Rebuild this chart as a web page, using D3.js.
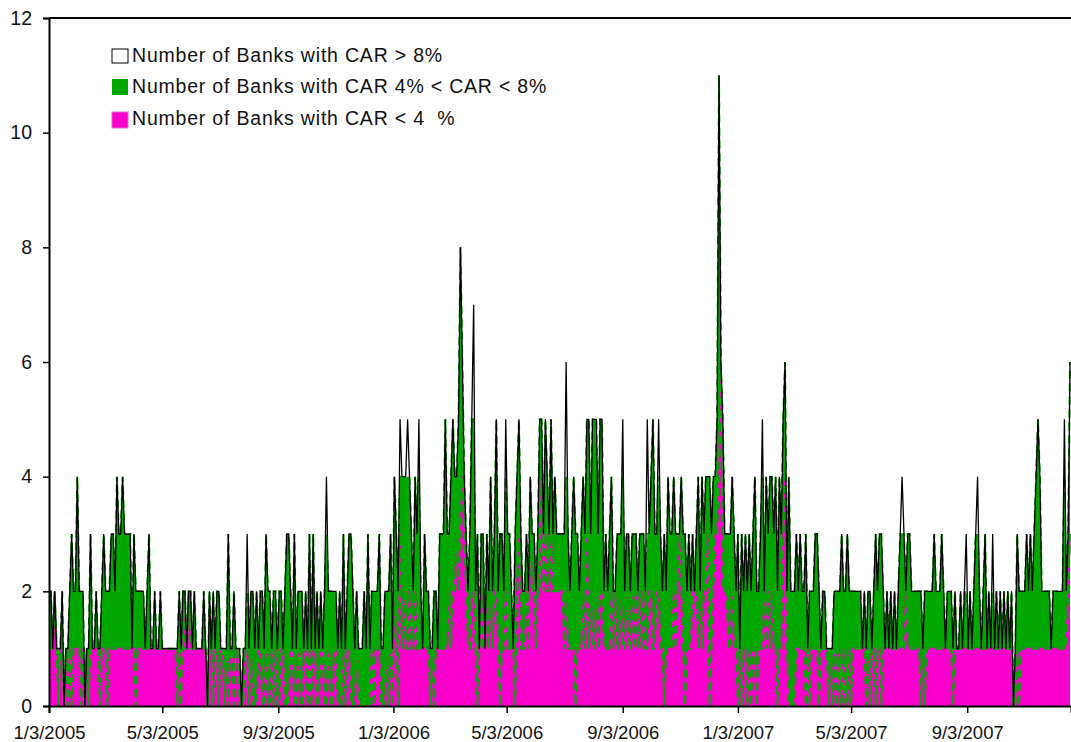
<!DOCTYPE html>
<html><head><meta charset="utf-8">
<script src="https://cdnjs.cloudflare.com/ajax/libs/d3/7.8.5/d3.min.js"></script>
<style>
html,body{margin:0;padding:0;background:#fff}
svg{display:block}
text{font-family:"Liberation Sans",Arial,sans-serif;fill:#111}
</style></head><body>
<svg id="c" width="1071" height="742"></svg>
<script>
// One reading every second calendar day from 3 Jan 2005
const banksTotal = [
2,2,1,2,1,1,1,2,0,1, 1,2,3,2,2,4,2,2,2,0, 1,1,3,1,1,2,1,1,2,3, 2,2,2,3,3,2,4,3,3,4, 3,3,3,3,1,3,2,2,2,2, 2,1,2,3,1,1,2,1,1,2,
1,1,1,1,1,1,1,1,1,2, 1,2,2,1,2,2,1,2,1,1, 1,1,2,1,0,2,1,2,1,2, 2,1,1,1,1,3,1,1,2,1, 1,1,0,1,1,3,1,2,2,1, 2,1,2,2,1,3,2,2,1,2,
2,1,2,2,1,2,3,3,2,1, 3,1,2,2,2,1,2,1,3,1, 3,1,2,1,2,1,2,4,2,2, 2,2,2,1,2,1,3,1,2,3, 3,2,1,2,1,1,1,2,1,3, 1,2,2,2,2,3,1,1,2,2,
2,3,1,4,3,2,5,4,4,4, 5,4,3,2,4,3,5,2,1,3, 2,2,1,1,2,2,1,3,3,3, 5,3,3,4,5,4,4,5,8,6, 4,3,2,3,5,7,2,3,1,3, 3,1,3,2,4,2,3,5,2,3,
3,2,5,3,3,2,1,3,4,5, 3,2,2,3,2,4,3,3,2,3, 5,5,3,5,4,3,5,3,4,3, 3,3,3,3,6,3,2,3,4,3, 3,2,3,4,3,5,5,3,5,5, 5,3,5,5,2,3,2,3,4,2,
2,3,3,3,5,2,3,3,2,3, 3,3,2,3,3,3,2,5,3,4, 5,3,3,5,3,2,3,2,4,3, 3,4,3,3,3,4,3,3,2,3, 2,3,2,3,4,2,4,3,4,4, 4,3,4,4,5,11,6,5,3,3,
3,3,4,3,2,3,1,3,2,3, 2,3,2,3,4,2,2,3,5,2, 4,3,4,4,3,4,2,4,3,5, 6,2,4,2,2,2,3,2,3,2, 2,3,1,2,2,2,3,3,2,1, 2,2,1,1,1,1,2,2,2,2,
3,2,2,3,2,2,2,2,2,2, 2,1,2,1,2,2,1,2,3,2, 3,3,2,1,2,1,2,1,2,1, 2,3,4,3,2,3,3,2,2,2, 2,2,2,1,2,2,2,2,2,3, 2,2,2,3,2,1,2,2,2,1,
2,1,1,2,1,2,3,1,2,1, 2,3,4,2,1,2,3,1,2,1, 3,1,2,1,2,1,2,1,2,1, 2,0,1,3,2,2,2,2,3,2, 3,2,3,4,5,4,2,2,2,2, 2,1,2,2,2,2,2,2,5,2,3,6
];
const banksBelow4 = [
1,1,1,2,1,0,1,1,0,1, 0,1,0,1,1,1,1,0,1,0, 1,0,1,1,1,1,1,0,1,1, 1,0,1,1,1,1,1,1,1,1, 1,1,1,1,1,1,0,1,1,1, 1,1,1,1,1,1,1,1,1,1,
1,1,1,1,1,1,1,1,0,1, 0,2,1,1,2,1,1,1,1,1, 1,1,1,1,0,1,1,0,1,1, 0,1,1,0,1,0,1,1,0,1, 1,0,0,0,1,1,0,1,0,0, 0,1,1,0,0,1,0,0,1,0,
1,0,0,1,1,0,0,0,1,1, 0,0,1,0,0,1,1,0,1,0, 1,1,0,0,1,1,0,0,1,0, 0,1,1,0,0,0,1,0,1,1, 0,0,0,1,0,0,0,0,0,0, 0,1,0,1,1,1,0,0,0,1,
0,1,0,2,1,0,3,1,2,1, 1,2,1,1,2,1,1,1,1,1, 1,1,0,1,0,1,1,1,1,1, 1,1,2,1,2,2,3,2,3,4, 3,2,1,1,2,2,1,0,1,2, 1,1,2,1,2,1,2,2,1,0,
1,1,2,1,1,1,1,0,2,3, 1,1,1,2,1,3,2,2,1,2, 2,4,2,3,2,2,3,2,2,2, 2,2,2,1,2,1,1,1,1,0, 1,1,1,2,1,3,1,2,1,1, 2,1,2,2,1,1,1,1,2,1,
2,1,1,2,1,1,2,1,1,2, 1,2,1,2,1,2,1,1,2,2, 1,1,2,2,1,1,0,1,1,1, 1,2,1,2,3,2,1,0,1,1, 1,2,2,2,1,2,1,2,2,3, 0,1,2,3,3,4,6,2,2,2,
1,1,2,1,1,0,1,0,1,1, 0,1,0,1,1,0,1,1,1,2, 1,2,1,2,1,1,0,1,1,3, 4,1,0,0,0,0,1,1,1,1, 1,0,1,0,1,1,1,1,0,1, 1,1,1,0,1,0,1,0,1,0,
0,1,0,0,1,0,1,1,1,1, 1,1,1,0,1,0,1,1,0,1, 1,0,1,1,1,1,1,1,1,1, 1,1,1,1,2,1,1,1,1,1, 1,1,0,1,0,1,1,1,1,1, 1,1,1,1,1,1,1,1,1,0,
1,1,1,1,1,1,1,1,1,1, 1,1,1,1,1,1,1,1,1,1, 1,1,1,1,1,1,1,1,1,1, 1,0,0,1,0,1,1,1,1,1, 1,1,1,1,1,1,1,1,1,1, 1,1,1,1,1,1,1,1,1,1,2,3
];
// Readings where the top of the spike is banks above 8% (black line over no green)
const above8Reading = [105,147,186,190,196,225,242,274,304,317,323,378,452,486,492,500,538];
const above8Count   = [1,  1,  1,  1,  1,  2,  1,  2,  1,  2,  1,  1,  1,  1,  1,  1,  1];

const tickDates = ["2005-01-03","2005-05-03","2005-09-03","2006-01-03","2006-05-03","2006-09-03","2007-01-03","2007-05-03","2007-09-03"];
const yTicks = [0,2,4,6,8,10,12];
const legendLabels = ["Number of Banks with CAR > 8%","Number of Banks with CAR 4% < CAR < 8%","Number of Banks with CAR < 4  %"];
const legendColors = ["#ffffff","#00a800","#fb00cc"];
const legendEdges = ["#000","none","#fb66dd"];

const m={l:49,r:1071,t:18,b:706};
const svg=d3.select("#c");
const start=new Date(Date.UTC(2005,0,3));
const table=banksTotal.map((t,i)=>{
  const lo=Math.min(banksBelow4[i],t);
  const k=above8Reading.indexOf(i);
  const hi=k<0?0:above8Count[k];
  return {date:d3.utcDay.offset(start,i*2),low:lo,mid:Math.max(t-lo-hi,0),high:hi};
});
const x=d3.scaleUtc().domain([start,d3.utcDay.offset(start,1083)]).range([m.l,m.r]);
const y=d3.scaleLinear().domain([0,12]).range([m.b,m.t]);
const stacked=d3.stack().keys(["low","mid","high"])(table);
const area=d3.area().x(d=>x(d.data.date)).y0(d=>y(d[0])).y1(d=>y(d[1]));
const topLine=d3.line().x(d=>x(d.data.date)).y(d=>y(d[1]));

svg.append("defs").append("clipPath").attr("id","pc").append("rect")
  .attr("x",m.l).attr("y",m.t-2).attr("width",m.r-m.l).attr("height",m.b-m.t+2);
const g=svg.append("g").attr("clip-path","url(#pc)");

g.append("path").datum(stacked[1]).attr("fill",legendColors[1]).attr("d",area);
g.append("path").datum(stacked[0]).attr("fill",legendColors[2]).attr("d",area);
// low boundary: magenta line with green dashes running over it
g.append("path").datum(stacked[0]).attr("fill","none").attr("stroke",legendColors[2]).attr("stroke-width",1.8).attr("d",topLine);
g.append("path").datum(stacked[0]).attr("fill","none").attr("stroke",legendColors[1]).attr("stroke-width",2).attr("stroke-dasharray","8 5").attr("d",topLine);
// mid boundary
g.append("path").datum(stacked[1]).attr("fill","none").attr("stroke",legendColors[1]).attr("stroke-width",2).attr("stroke-dasharray","8 5").attr("d",topLine);
// total boundary
g.append("path").datum(stacked[2]).attr("fill","none").attr("stroke","#000").attr("stroke-width",1.3).attr("d",topLine);

// top frame line
svg.append("line").attr("x1",m.l).attr("x2",m.r).attr("y1",y(12)).attr("y2",y(12)).attr("stroke","#000").attr("stroke-width",2);

const yAxis=svg.append("g").attr("transform",`translate(${m.l},0)`)
  .call(d3.axisLeft(y).tickValues(yTicks).tickSize(6).tickPadding(11).tickFormat(d3.format("d")));
const xAxis=svg.append("g").attr("transform",`translate(0,${m.b})`)
  .call(d3.axisBottom(x).tickValues(tickDates.map(s=>new Date(s+"T00:00:00Z"))).tickSize(7).tickPadding(13)
  .tickFormat(d=>`${d.getUTCMonth()+1}/${d.getUTCDate()}/${d.getUTCFullYear()}`));
[yAxis,xAxis].forEach((a,n)=>{
  a.selectAll("path").attr("stroke","#000").attr("stroke-width",2);
  a.selectAll("line").attr("stroke","#000").attr("stroke-width",1.5);
  a.selectAll("text").attr("font-size",n==0?19.5:18.5).attr("fill","#111").attr("font-family",'"Liberation Sans",Arial,sans-serif');
});

const legendBoxes=[{y:49,h:14,b:62},{y:79,h:16,b:92.5},{y:112,h:16,b:125}];
const lg=svg.append("g");
legendLabels.forEach((t,i)=>{
  lg.append("rect").attr("x",112).attr("y",legendBoxes[i].y).attr("width",16).attr("height",legendBoxes[i].h)
    .attr("fill",legendColors[i]).attr("stroke",legendEdges[i]).attr("stroke-width",1);
  lg.append("text").attr("x",132).attr("y",legendBoxes[i].b).attr("font-size",19.5).attr("letter-spacing",0.8).style("white-space","pre").text(t);
});
</script>
</body></html>
